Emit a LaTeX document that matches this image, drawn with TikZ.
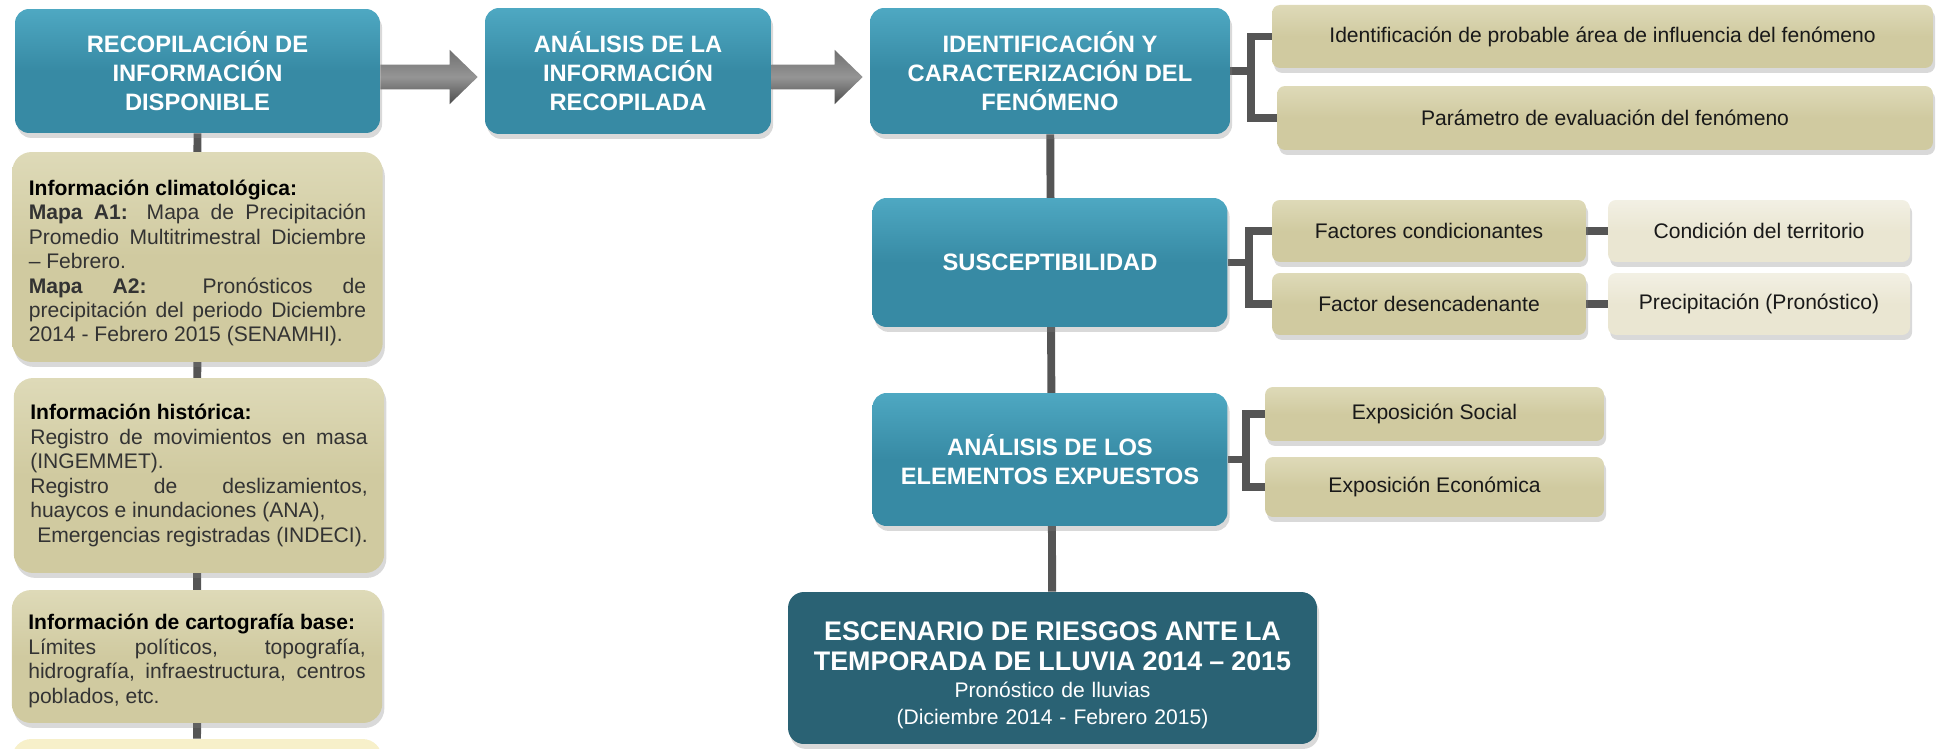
\documentclass[tikz,border=0pt]{standalone}
\usepackage{fontspec}
\setmainfont{Liberation Sans}
\usetikzlibrary{calc,shadows,backgrounds}

\definecolor{azul}{HTML}{378AA4}
\definecolor{azultop}{HTML}{4EA8C2}
\definecolor{azuloscuro}{HTML}{2A6274}
\definecolor{arena}{HTML}{D0CAA0}
\definecolor{arenatop}{HTML}{DEDAB8}
\definecolor{arenaclara}{HTML}{EAE6D2}
\definecolor{crema}{HTML}{F7F0CA}
\definecolor{conector}{HTML}{555555}
\definecolor{texto}{HTML}{333333}
\definecolor{flechaosc}{HTML}{4C4C4C}
\definecolor{flechaclara}{HTML}{959595}

\newcommand{\tit}[1]{\textcolor{black}{\textbf{#1}}}
\newcommand{\flecha}[2]{%
  \shade[top color=flechaosc!80!white, bottom color=flechaosc, middle color=flechaclara]
    let \p1=($(#1.east)+(0,6)$), \p2=(#2.west) in
    (\x1,\y1+7pt) -- (\x2-20pt,\y1+7pt) -- (\x2-20pt,\y1+15.5pt) -- (\x2-4pt,\y1)
    -- (\x2-20pt,\y1-15.5pt) -- (\x2-20pt,\y1-7pt) -- (\x1,\y1-7pt) -- cycle;}

\tikzset{
  caja/.style={inner sep=0pt,
    drop shadow={shadow xshift=1.2pt, shadow yshift=-2.8pt, opacity=.3}},
  etapa/.style={caja, rounded corners=8pt, top color=azultop, bottom color=azul,
    middle color=azul, text=white, align=center,
    font=\fontsize{13.5pt}{16.5pt}\selectfont\bfseries},
  dato/.style={caja, rounded corners=11pt, top color=arenatop, bottom color=arena,
    middle color=arena, text=texto, text width=6.75cm, inner xsep=0.33cm,
    align=justify, font=\fontsize{12pt}{13.9pt}\selectfont},
  factor/.style={caja, rounded corners=4.5pt, top color=arenatop, bottom color=arena,
    middle color=arena, text=black!90, font=\fontsize{12pt}{14pt}\selectfont},
  detalle/.style={factor, top color=arenaclara!60!white, bottom color=arenaclara,
    middle color=arenaclara},
  conn/.style={draw=conector, line width=4.5pt}
}

\begin{document}
\begin{tikzpicture}[x=0.02cm, y=-0.02cm]
\useasboundingbox (0,0) rectangle (1939,749);
\clip (0,0) rectangle (1939,749);

\node[etapa, minimum width=7.3cm, minimum height=2.48cm] (recop) at (197.5,71)
  {RECOPILACIÓN DE\\ INFORMACIÓN\\ DISPONIBLE};
\node[etapa, minimum width=5.72cm, minimum height=2.52cm] (analisis) at (628,71)
  {ANÁLISIS DE LA\\ INFORMACIÓN\\ RECOPILADA};
\node[etapa, minimum width=7.2cm, minimum height=2.52cm] (ident) at (1050,71)
  {IDENTIFICACIÓN Y\\ CARACTERIZACIÓN DEL\\ FENÓMENO};
\node[etapa, minimum width=7.1cm, minimum height=2.58cm] (susc) at (1050,262.5)
  {SUSCEPTIBILIDAD};
\node[etapa, minimum width=7.1cm, minimum height=2.66cm] (expuestos) at (1050,459.5)
  {ANÁLISIS DE LOS\\ ELEMENTOS EXPUESTOS};
\node[caja, rounded corners=9pt, fill=azuloscuro, text=white, minimum width=10.58cm,
  minimum height=3.04cm, text width=10cm, align=center,
  font=\fontsize{12pt}{15.3pt}\selectfont] (escenario) at (1052.5,668)
  {{\fontsize{15.3pt}{17pt}\selectfont\bfseries ESCENARIO DE RIESGOS ANTE LA\\
   TEMPORADA DE LLUVIA 2014 – 2015\par}
   Pronóstico de lluvias\\ (Diciembre 2014 - Febrero 2015)\par\vspace{-8pt}};

\node[dato, minimum height=4.2cm] (clima) at (197.5,257)
  {\tit{Información climatológica:}\\
   \textbf{Mapa A1:} Mapa de Precipitación\linebreak
   Promedio Multitrimestral Diciembre\linebreak
   – Febrero.\\
   \textbf{Mapa A2:} Pronósticos de\linebreak
   precipitación del periodo Diciembre\linebreak
   2014 - Febrero 2015 (SENAMHI).\par\vspace{-7pt}};
\node[dato, minimum height=3.9cm] (hist) at (199,475.5)
  {\tit{Información histórica:}\\
   Registro de movimientos en masa\linebreak
   (INGEMMET).\\
   Registro de deslizamientos,\linebreak
   huaycos e inundaciones (ANA),\\
   \hspace*{0.14cm}Emergencias registradas (INDECI).};
\node[dato, minimum height=2.66cm] (carto) at (197,656.5)
  {\tit{Información de cartografía base:}\\
   Límites políticos, topografía,\linebreak
   hidrografía, infraestructura, centros\linebreak
   poblados, etc.\par\vspace{-5pt}};
\node[caja, rounded corners=11pt, fill=crema, minimum width=7.4cm,
  minimum height=2.4cm] (siguiente) at (197,799) {};

\node[factor, minimum width=13.22cm, minimum height=1.26cm] (area) at (1602.5,36.5)
  {Identificación de probable área de influencia del fenómeno};
\node[factor, minimum width=13.12cm, minimum height=1.28cm] (param) at (1605,118)
  {Parámetro de evaluación del fenómeno};
\node[factor, minimum width=6.28cm, minimum height=1.24cm] (condic) at (1429,231)
  {Factores condicionantes};
\node[factor, minimum width=6.28cm, minimum height=1.24cm] (desenc) at (1429,304)
  {Factor desencadenante};
\node[detalle, minimum width=6.04cm, minimum height=1.24cm] (territorio) at (1759,231)
  {Condición del territorio};
\node[detalle, minimum width=6.04cm, minimum height=1.24cm] (precip) at (1759,304)
  {Precipitación (Pronóstico)};
\node[factor, minimum width=6.78cm, minimum height=1.08cm] (social) at (1434.5,414)
  {Exposición Social};
\node[factor, minimum width=6.78cm, minimum height=1.2cm] (economica) at (1434.5,487)
  {Exposición Económica};

\begin{scope}[on background layer]
  \draw[conn] (recop) -- (siguiente);
  \draw[conn] (ident) -- (escenario);
  \draw[conn] (ident.east) -- ++(21,0) |- (area.west);
  \draw[conn] (ident.east) ++(21,0) |- (param.west);
  \draw[conn] (susc.east) -- ++(21,0) |- (condic.west);
  \draw[conn] (susc.east) ++(21,0) |- (desenc.west);
  \draw[conn] (expuestos.east) -- ++(18,0) |- (social.west);
  \draw[conn] (expuestos.east) ++(18,0) |- (economica.west);
  \draw[conn] (condic) -- (territorio);
  \draw[conn] (desenc) -- (precip);
\end{scope}

\flecha{recop}{analisis}
\flecha{analisis}{ident}
\end{tikzpicture}
\end{document}
